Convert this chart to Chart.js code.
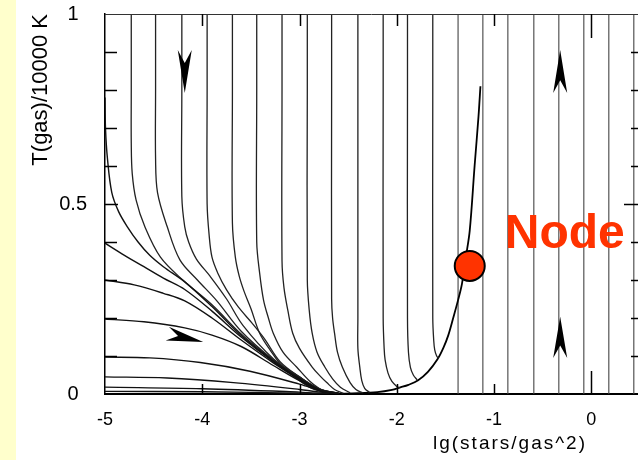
<!DOCTYPE html>
<html><head><meta charset="utf-8">
<script src="https://cdn.jsdelivr.net/npm/chart.js@4.4.1/dist/chart.umd.min.js"></script>
<style>
html,body{margin:0;padding:0;background:#fff;overflow:hidden}
#wrap{position:relative;width:638px;height:460px}
</style></head><body>
<div id="wrap"><canvas id="c" width="638" height="460"></canvas></div>
<script>
// ---------- data ----------
const xTickValues = [-5, -4, -3, -2, -1, 0];
const yTickLabels = ['0', '0.5', '1'];
const xTitle = 'lg(stars/gas^2)';
const yTitle = 'T(gas)/10000 K';
const nodeLabel = 'Node';
const nodePoint = [[-1.25, 0.337]];

// trajectories entering from the left edge
const edgeCurves = [
  [[-5.0,0.78],[-4.995,0.70],[-4.975,0.62],[-4.93,0.53],[-4.86,0.48],[-4.77,0.44],[-4.66,0.40],[-4.54,0.365],[-4.4,0.335],[-4.18,0.295],[-3.9,0.23],[-3.6,0.154],[-3.27,0.087],[-3.0,0.041],[-2.79,0.011],[-2.6,0.002]],
  [[-5,0.397],[-4.8,0.365],[-4.6,0.335],[-4.4,0.305],[-4.18,0.275],[-3.9,0.218],[-3.6,0.15],[-3.27,0.085],[-3.0,0.04],[-2.79,0.01],[-2.6,0.002]],
  [[-5,0.30],[-4.7,0.287],[-4.4,0.265],[-4.18,0.245],[-3.9,0.2],[-3.6,0.142],[-3.27,0.082],[-3.0,0.038],[-2.79,0.009],[-2.6,0.001]],
  [[-5,0.197],[-4.6,0.19],[-4.18,0.174],[-3.9,0.155],[-3.6,0.125],[-3.27,0.075],[-3.0,0.035],[-2.79,0.009],[-2.6,0.001]],
  [[-5,0.097],[-4.54,0.095],[-4.02,0.083],[-3.51,0.06],[-3.0,0.026],[-2.75,0.006],[-2.6,0.001]],
  [[-5,0.045],[-4.36,0.042],[-3.68,0.03],[-3.0,0.012],[-2.7,0.002]],
  [[-5,0.018],[-4.0,0.014],[-3.0,0.005],[-2.7,0.001]],
  [[-5,0.007],[-4.0,0.006],[-3.0,0.002],[-2.7,0.0]]
];

// trajectories entering from the top edge
const topCurves = [
  [[-4.73,1],[-4.73,0.8],[-4.73,0.66],[-4.72,0.58],[-4.68,0.51],[-4.59,0.44],[-4.43,0.36],[-4.2,0.30],[-3.9,0.235],[-3.6,0.158],[-3.27,0.089],[-3.0,0.043],[-2.79,0.012],[-2.6,0.002]],
  [[-4.48,1],[-4.48,0.8],[-4.48,0.62],[-4.46,0.53],[-4.36,0.44],[-4.23,0.353],[-4.05,0.30],[-3.85,0.245],[-3.6,0.165],[-3.27,0.09],[-3.0,0.044],[-2.79,0.012],[-2.6,0.002]],
  [[-4.21,1],[-4.21,0.8],[-4.21,0.52],[-4.18,0.44],[-4.14,0.40],[-4.06,0.355],[-3.92,0.31],[-3.75,0.25],[-3.58,0.18],[-3.27,0.093],[-3.0,0.045],[-2.79,0.013],[-2.6,0.002]],
  [[-3.95,1],[-3.95,0.8],[-3.95,0.5],[-3.93,0.42],[-3.90,0.36],[-3.84,0.318],[-3.75,0.274],[-3.63,0.229],[-3.49,0.187],[-3.36,0.145],[-3.2,0.085],[-3.0,0.045],[-2.8,0.013],[-2.6,0.002]],
  [[-3.69,1],[-3.69,0.8],[-3.69,0.45],[-3.66,0.36],[-3.62,0.31],[-3.57,0.27],[-3.50,0.225],[-3.41,0.16],[-3.30,0.115],[-3.17,0.071],[-3.0,0.035],[-2.85,0.012],[-2.7,0.002]],
  [[-3.44,1],[-3.44,0.8],[-3.44,0.4],[-3.41,0.318],[-3.37,0.247],[-3.32,0.2],[-3.27,0.16],[-3.17,0.11],[-3.03,0.071],[-2.9,0.035],[-2.8,0.015],[-2.7,0.003]],
  [[-3.18,1],[-3.18,0.8],[-3.18,0.35],[-3.16,0.28],[-3.12,0.22],[-3.07,0.16],[-3.0,0.12],[-2.87,0.071],[-2.78,0.045],[-2.72,0.03],[-2.64,0.012],[-2.55,0.002]],
  [[-2.92,1],[-2.92,0.8],[-2.92,0.3],[-2.90,0.22],[-2.87,0.16],[-2.82,0.11],[-2.74,0.071],[-2.66,0.04],[-2.58,0.018],[-2.48,0.003]],
  [[-2.67,1],[-2.67,0.8],[-2.67,0.25],[-2.66,0.2],[-2.64,0.16],[-2.61,0.11],[-2.56,0.071],[-2.48,0.03],[-2.42,0.012],[-2.35,0.003]],
  [[-2.40,1],[-2.40,0.8],[-2.40,0.2],[-2.40,0.12],[-2.38,0.07],[-2.36,0.035],[-2.33,0.015],[-2.28,0.004]],
  [[-2.14,1],[-2.14,0.8],[-2.14,0.2],[-2.13,0.12],[-2.12,0.09],[-2.09,0.055],[-2.05,0.033],[-2.0,0.02],[-1.97,0.016]],
  [[-1.89,1],[-1.89,0.8],[-1.89,0.2],[-1.88,0.11],[-1.86,0.07],[-1.83,0.05],[-1.79,0.037]],
  [[-1.63,1],[-1.63,0.8],[-1.63,0.2],[-1.62,0.14],[-1.61,0.116],[-1.59,0.1],[-1.57,0.093]]
];

// the U-shaped separatrix through the node
const separatrix = [[-2.85,0.0],[-2.6,0.001],[-2.4,0.002],[-2.2,0.005],[-2.05,0.011],[-1.97,0.017],[-1.88,0.024],[-1.78,0.036],[-1.68,0.058],[-1.58,0.092],[-1.52,0.122],[-1.47,0.155],[-1.42,0.2],[-1.37,0.247],[-1.33,0.29],[-1.29,0.36],[-1.25,0.43],[-1.20,0.6],[-1.16,0.73],[-1.14,0.81]];

// straight full-height trajectories
const verticalLines = [-1.37, -1.115, -0.858, -0.591, -0.334, -0.077, 0.180, 0.437];

// direction arrows (tip, tail) in data units
const arrowTips  = [[-4.18,0.792],[-0.32,0.905],[-0.32,0.203],[-3.99,0.137]];
const arrowTails = [[-4.18,0.905],[-0.32,0.792],[-0.32,0.095],[-4.36,0.159]];

// ---------- presentation ----------
const labelPos = {x: -0.89, y: 0.384};
const FONT = '"Liberation Sans", Arial, sans-serif';
const toXY = pts => pts.map(([x, y]) => ({x, y}));

const datasets = [];
datasets.push({data: toXY(nodePoint), pointRadius: 15, pointBackgroundColor: '#ff3300',
  pointBorderColor: '#000', pointBorderWidth: 2, showLine: false, order: -1});
edgeCurves.forEach(c => datasets.push({data: toXY(c), showLine: true, pointRadius: 0,
  borderColor: '#111', borderWidth: 1.4, tension: 0.35, order: 1}));
topCurves.forEach(c => datasets.push({data: toXY(c), showLine: true, pointRadius: 0,
  borderColor: '#222', borderWidth: 1.3, tension: 0.35, order: 1}));
datasets.push({data: toXY(separatrix), showLine: true, pointRadius: 0,
  borderColor: '#000', borderWidth: 1.8, tension: 0.35, order: 1});
verticalLines.forEach(v => datasets.push({data: [{x: v, y: 0}, {x: v, y: 1}], showLine: true,
  pointRadius: 0, borderColor: '#444', borderWidth: 1.1, order: 1}));

const decor = {
  id: 'decor',
  beforeDraw(chart) {
    const ctx = chart.ctx;
    ctx.save();
    ctx.fillStyle = '#fff';
    ctx.fillRect(0, 0, chart.width, chart.height);
    ctx.fillStyle = '#ffffcc';
    ctx.fillRect(0, 0, 16, chart.height);
    ctx.restore();
  },
  afterDatasetsDraw(chart) {
    const {ctx, chartArea: a, scales: {x, y}} = chart;
    ctx.save();
    // top border
    ctx.strokeStyle = '#333'; ctx.lineWidth = 1;
    ctx.beginPath(); ctx.moveTo(a.left, a.top + 0.5); ctx.lineTo(a.right, a.top + 0.5); ctx.stroke();
    // inward ticks
    ctx.strokeStyle = '#000'; ctx.lineWidth = 1.5;
    y.ticks.forEach(t => {
      if (t.value <= 0 || t.value >= 1) return;
      const py = Math.round(y.getPixelForValue(t.value)) + 0.5;
      const half = Math.abs(t.value - 0.5) < 1e-6;
      ctx.beginPath(); ctx.moveTo(a.left, py); ctx.lineTo(a.left + (half ? 13 : 12), py); ctx.stroke();
      ctx.beginPath(); ctx.moveTo(a.right, py); ctx.lineTo(a.right - (half ? 14 : 7), py); ctx.stroke();
    });
    x.ticks.forEach(t => {
      if (t.value <= -5) return;
      const px = Math.round(x.getPixelForValue(t.value)) + 0.5;
      const zero = Math.abs(t.value) < 1e-6;
      ctx.beginPath(); ctx.moveTo(px, a.top); ctx.lineTo(px, a.top + (zero ? 24 : 12)); ctx.stroke();
      ctx.beginPath(); ctx.moveTo(px, a.bottom); ctx.lineTo(px, a.bottom - (zero ? 23 : 10)); ctx.stroke();
    });
    // arrows
    ctx.fillStyle = '#000';
    arrowTips.forEach((tip, i) => {
      const tail = arrowTails[i];
      const P = [x.getPixelForValue(tip[0]), y.getPixelForValue(tip[1])];
      const C = [x.getPixelForValue(tail[0]), y.getPixelForValue(tail[1])];
      const dx = P[0] - C[0], dy = P[1] - C[1];
      const len = Math.hypot(dx, dy);
      const ux = dx / len, uy = dy / len, w = 7;
      ctx.beginPath();
      ctx.moveTo(P[0], P[1]);
      ctx.lineTo(C[0] - uy * w, C[1] + ux * w);
      ctx.lineTo(C[0] + ux * len * 0.3, C[1] + uy * len * 0.3);
      ctx.lineTo(C[0] + uy * w, C[1] - ux * w);
      ctx.closePath();
      ctx.fill();
    });
    // Node label
    ctx.fillStyle = '#ff3300';
    ctx.font = 'bold 48px ' + FONT;
    ctx.textAlign = 'left'; ctx.textBaseline = 'alphabetic';
    ctx.fillText(nodeLabel, x.getPixelForValue(labelPos.x), y.getPixelForValue(labelPos.y));
    ctx.restore();
  },
  afterDraw(chart) {
    const {ctx, chartArea: a} = chart;
    ctx.save();
    ctx.fillStyle = '#000';
    ctx.font = '19px ' + FONT;
    try { ctx.letterSpacing = '2px'; } catch (e) {}
    ctx.textAlign = 'center'; ctx.textBaseline = 'middle';
    ctx.fillText(xTitle, a.right - 128, a.bottom + 50);
    ctx.restore();
  }
};

new Chart(document.getElementById('c'), {
  type: 'scatter',
  data: {datasets},
  options: {
    responsive: false,
    animation: false,
    devicePixelRatio: 1,
    layout: {autoPadding: false, padding: {top: 14, right: 0, left: 0, bottom: 0}},
    plugins: {legend: {display: false}, tooltip: {enabled: false}},
    scales: {
      x: {
        type: 'linear', min: -5, max: 0.48,
        afterFit: s => { s.height = 66; s.paddingLeft = 0; s.paddingRight = 0; },
        grid: {display: false, drawTicks: false, tickLength: 0},
        border: {display: true, color: '#000', width: 2},
        ticks: {
          stepSize: 1, includeBounds: false, padding: 15, color: '#000',
          font: {family: FONT, size: 18},
          callback: v => xTickValues.includes(Math.round(v)) && Math.abs(v - Math.round(v)) < 1e-6 ? String(Math.round(v)) : ''
        }
      },
      y: {
        type: 'linear', min: 0, max: 1,
        afterFit: s => { s.width = 105; s.paddingTop = 0; s.paddingBottom = 0; },
        grid: {display: false, drawTicks: false, tickLength: 0},
        border: {display: true, color: '#000', width: 1.5},
        title: {display: true, text: yTitle, align: 'end', color: '#000',
          font: {family: FONT, size: 22}, padding: {top: 28, bottom: 0}},
        ticks: {
          stepSize: 0.1, padding: 18, color: '#000', crossAlign: 'center',
          font: {family: FONT, size: 20},
          callback: v => {
            const i = [0, 0.5, 1].findIndex(t => Math.abs(v - t) < 1e-6);
            return i >= 0 ? yTickLabels[i] : '';
          }
        }
      }
    }
  },
  plugins: [decor]
});
</script>
</body></html>
